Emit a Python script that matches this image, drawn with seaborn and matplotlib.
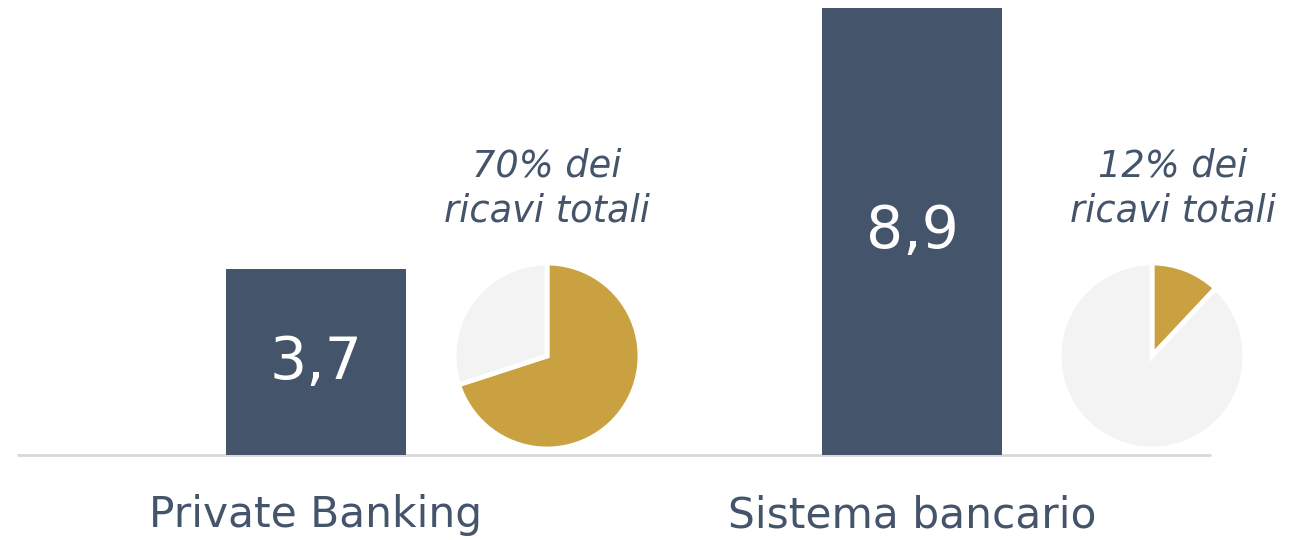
import matplotlib
matplotlib.use("Agg")
import matplotlib.pyplot as plt
import pandas as pd
import seaborn as sns

categories = ["Private Banking", "Sistema bancario"]
values = [3.7, 8.9]
value_labels = ["3,7", "8,9"]
share_pct = [70, 12]
share_labels = ["70% dei", "12% dei"]

BAR = "#44546A"
GOLD = "#C9A141"
LIGHT = "#F2F3F2"
W, H = 1292, 540

sns.set_theme(style="white")
plt.rcParams["font.family"] = ["DejaVu Sans"]

df = pd.DataFrame({"cat": categories, "val": values})

fig = plt.figure(figsize=(W / 100, H / 100), dpi=100)
ax = fig.add_axes([0, 0, 1, 1])
sns.barplot(data=df, x="cat", y="val", color=BAR, width=0.302, saturation=1,
            linewidth=0, ax=ax)
ax.set_xlim(-316 / 596, 976 / 596)
ppu = 447 / 8.9
ax.set_ylim(-85 / ppu, 455 / ppu)
ax.axhline(0, xmin=(18 / W), xmax=(1210 / W), color="#D9D9D9", lw=2, zorder=0)
ax.axis("off")

for i, p in enumerate(ax.patches):
    ax.text(p.get_x() + p.get_width() / 2, p.get_height() / 2, value_labels[i],
            ha="center", va="center", color="white", fontsize=42)
    ax.text(i, -60 / ppu, categories[i], ha="center", va="center",
            color=BAR, fontsize=30.5)

# pies and their notes
pie_cx = [547, 1152]
text_cx = [547, 1173]
r = 93
for i, pct in enumerate(share_pct):
    cx, cy = pie_cx[i], 356
    pax = fig.add_axes([(cx - r) / W, 1 - (cy + r) / H, 2 * r / W, 2 * r / H])
    pax.pie([pct, 100 - pct], colors=[GOLD, LIGHT], startangle=90, counterclock=False,
            wedgeprops=dict(edgecolor="white", linewidth=3.5))
    pax.set_xlim(-1, 1)
    pax.set_ylim(-1, 1)
    pax.set_aspect("equal")
    fig.text(text_cx[i] / W, 1 - 177 / H, share_labels[i], ha="center", va="baseline",
             color=BAR, fontsize=26.5, style="italic")
    fig.text(text_cx[i] / W, 1 - 221 / H, "ricavi totali", ha="center", va="baseline",
             color=BAR, fontsize=26.5, style="italic")

fig.savefig("out.png", dpi=100)
